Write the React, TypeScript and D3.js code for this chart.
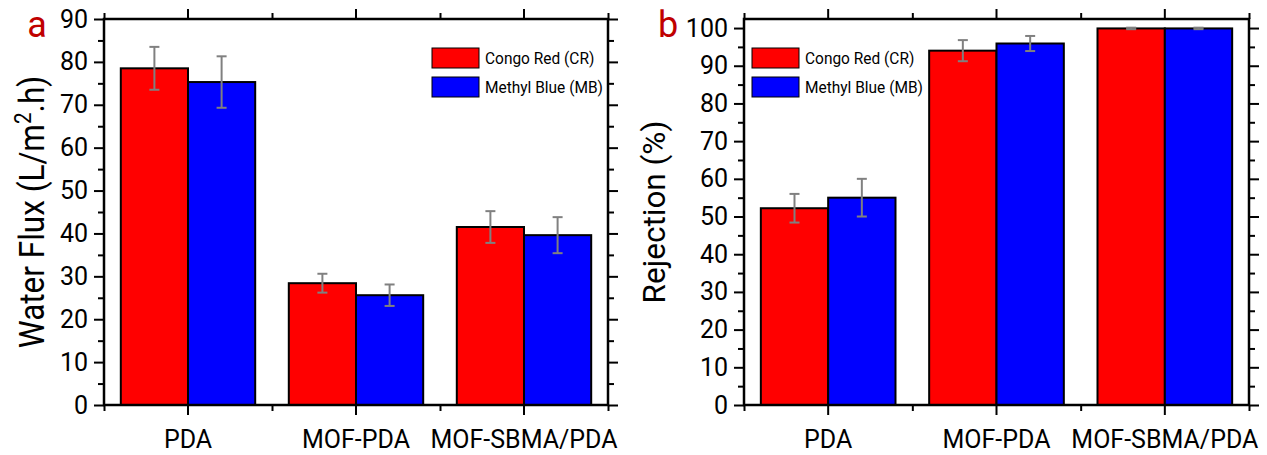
import React, { useEffect, useRef } from "react";
import * as d3 from "d3";

// categories and series
const categories = ["PDA", "MOF-PDA", "MOF-SBMA/PDA"];
const seriesNames = ["Congo Red (CR)", "Methyl Blue (MB)"];
const seriesColors = ["#ff0000", "#0000ff"];

// panel a: water flux (L/m2.h)
const fluxCR = [78.5, 28.4, 41.5];
const fluxCRErr = [5.0, 2.2, 3.7];
const fluxMB = [75.3, 25.6, 39.6];
const fluxMBErr = [6.0, 2.5, 4.2];
const fluxTicks = [0, 10, 20, 30, 40, 50, 60, 70, 80, 90];

// panel b: rejection (%)
const rejCR = [52.2, 94.0, 99.9];
const rejCRErr = [3.8, 2.8, 0.2];
const rejMB = [55.0, 95.9, 99.9];
const rejMBErr = [5.0, 2.0, 0.2];
const rejTicks = [0, 10, 20, 30, 40, 50, 60, 70, 80, 90, 100];

const W = 1267;
const H = 455;
const FONT = "Roboto, 'Open Sans', sans-serif";

type PanelProps = {
  letter: string;
  x0: number;
  x1: number;
  yMax: number;
  ticks: number[];
  values: number[][];
  errors: number[][];
  title: (t: d3.Selection<SVGTextElement, unknown, null, undefined>) => void;
  titleX: number;
  titleSize: number;
  titleScale: number;
  letterX: number;
  legendX: number;
};

function drawPanel(svg: d3.Selection<SVGSVGElement, unknown, null, undefined>, p: PanelProps) {
  const top = 19;
  const bottom = 405;
  const g = svg.append("g");

  const x = d3.scaleBand<string>()
    .domain(categories)
    .range([p.x0, p.x1])
    .paddingInner(0.2)
    .paddingOuter(0.1);
  const xs = d3.scaleBand<number>()
    .domain([0, 1])
    .range([0, x.bandwidth()]);
  const y = d3.scaleLinear().domain([0, p.yMax]).range([bottom, top]);

  // bars
  const rows = categories.flatMap((c, i) =>
    p.values.map((v, s) => ({ c, s, v: v[i], e: p.errors[s][i] }))
  );
  g.selectAll("rect.bar")
    .data(rows)
    .enter()
    .append("rect")
    .attr("class", "bar")
    .attr("x", (d) => x(d.c)! + xs(d.s)!)
    .attr("y", (d) => y(d.v))
    .attr("width", xs.bandwidth())
    .attr("height", (d) => y(0) - y(d.v))
    .attr("fill", (d) => seriesColors[d.s])
    .attr("stroke", "#000")
    .attr("stroke-width", 2);

  // error bars
  const eb = g.selectAll("g.err").data(rows).enter().append("g")
    .attr("stroke", "#808080")
    .attr("stroke-width", 2)
    .attr("transform", (d) => `translate(${x(d.c)! + xs(d.s)! + xs.bandwidth() / 2},0)`);
  eb.append("line").attr("y1", (d) => y(d.v + d.e)).attr("y2", (d) => y(d.v - d.e));
  eb.append("line").attr("x1", -5).attr("x2", 5).attr("y1", (d) => y(d.v + d.e)).attr("y2", (d) => y(d.v + d.e));
  eb.append("line").attr("x1", -5).attr("x2", 5).attr("y1", (d) => y(d.v - d.e)).attr("y2", (d) => y(d.v - d.e));

  // minor ticks
  const minors: number[] = [];
  for (let t = 5; t < p.yMax; t += 10) minors.push(t);
  const step = x.step();
  const bounds = [p.x0, ...categories.slice(1).map((c) => x(c)! - (step - x.bandwidth()) / 2), p.x1];
  const xb = d3.scaleLinear().domain([p.x0, p.x1]).range([p.x0, p.x1]);

  const style = (a: d3.Selection<SVGGElement, unknown, null, undefined>) => {
    a.select(".domain").remove();
    a.selectAll("line").attr("stroke", "#000").attr("stroke-width", 2);
    a.selectAll("text").attr("font-family", FONT).attr("fill", "#000");
  };

  // left axis
  g.append("g").attr("transform", `translate(${p.x0},0)`)
    .call(d3.axisLeft(y).tickValues(p.ticks).tickSize(10).tickPadding(6).tickFormat(d3.format("d")))
    .call(style)
    .selectAll("text").attr("font-size", 25);
  g.append("g").attr("transform", `translate(${p.x0},0)`)
    .call(d3.axisLeft(y).tickValues(minors).tickSize(6).tickFormat(() => ""))
    .call(style);
  // right axis
  g.append("g").attr("transform", `translate(${p.x1},0)`)
    .call(d3.axisRight(y).tickValues(p.ticks).tickSize(10).tickFormat(() => ""))
    .call(style);
  g.append("g").attr("transform", `translate(${p.x1},0)`)
    .call(d3.axisRight(y).tickValues(minors).tickSize(6).tickFormat(() => ""))
    .call(style);
  // bottom axis
  g.append("g").attr("transform", `translate(0,${bottom})`)
    .call(d3.axisBottom(x).tickSize(10).tickPadding(15))
    .call(style)
    .selectAll("text").attr("font-size", 25);
  g.append("g").attr("transform", `translate(0,${bottom})`)
    .call(d3.axisBottom(xb).tickValues(bounds).tickSize(6).tickFormat(() => ""))
    .call(style);
  // top axis
  g.append("g").attr("transform", `translate(0,${top})`)
    .call(d3.axisTop(x).tickSize(10).tickFormat(() => ""))
    .call(style);
  g.append("g").attr("transform", `translate(0,${top})`)
    .call(d3.axisTop(xb).tickValues(bounds).tickSize(6).tickFormat(() => ""))
    .call(style);

  // frame
  g.append("rect")
    .attr("x", p.x0).attr("y", top)
    .attr("width", p.x1 - p.x0).attr("height", bottom - top)
    .attr("fill", "none").attr("stroke", "#000").attr("stroke-width", 2.5);

  // axis title
  const t = g.append("text")
    .attr("transform", `translate(${p.titleX},${(top + bottom) / 2}) rotate(-90) scale(${p.titleScale},1)`)
    .attr("text-anchor", "middle")
    .attr("font-family", FONT)
    .attr("font-size", p.titleSize)
    .attr("fill", "#000");
  p.title(t);

  // panel letter
  g.append("text")
    .attr("x", p.letterX).attr("y", 37)
    .attr("text-anchor", "middle")
    .attr("font-family", FONT)
    .attr("font-size", 36)
    .attr("fill", "#c00000")
    .text(p.letter);

  // legend
  const lg = g.append("g").attr("transform", `translate(${p.legendX},48)`);
  seriesNames.forEach((name, i) => {
    lg.append("rect")
      .attr("x", 0).attr("y", i * 29)
      .attr("width", 47).attr("height", 20)
      .attr("fill", seriesColors[i])
      .attr("stroke", "#000").attr("stroke-width", 1);
    lg.append("text")
      .attr("transform", `translate(53,${i * 29 + 16}) scale(0.91,1)`)
      .attr("font-family", FONT)
      .attr("font-size", 17)
      .attr("fill", "#000")
      .text(name);
  });
}

export default function App() {
  const ref = useRef<SVGSVGElement>(null);

  useEffect(() => {
    const svg = d3.select(ref.current!);
    svg.selectAll("*").remove();

    drawPanel(svg as any, {
      letter: "a",
      x0: 104,
      x1: 608,
      yMax: 90,
      ticks: fluxTicks,
      values: [fluxCR, fluxMB],
      errors: [fluxCRErr, fluxMBErr],
      titleX: 44,
      titleSize: 35,
      titleScale: 0.9,
      letterX: 37,
      legendX: 432,
      title: (t) => {
        t.append("tspan").text("Water Flux (L/m");
        t.append("tspan").attr("font-size", 23).attr("dy", -13).text("2");
        t.append("tspan").attr("dy", 13).text(".h)");
      },
    });

    drawPanel(svg as any, {
      letter: "b",
      x0: 744,
      x1: 1249,
      yMax: 102.4,
      ticks: rejTicks,
      values: [rejCR, rejMB],
      errors: [rejCRErr, rejMBErr],
      titleX: 665,
      titleSize: 31.5,
      titleScale: 1,
      letterX: 668,
      legendX: 752,
      title: (t) => {
        t.text("Rejection (%)");
      },
    });
  }, []);

  return (
    <svg
      ref={ref}
      width={W}
      height={H}
      style={{ position: "absolute", left: 0, top: 0, background: "#fff" }}
    />
  );
}
